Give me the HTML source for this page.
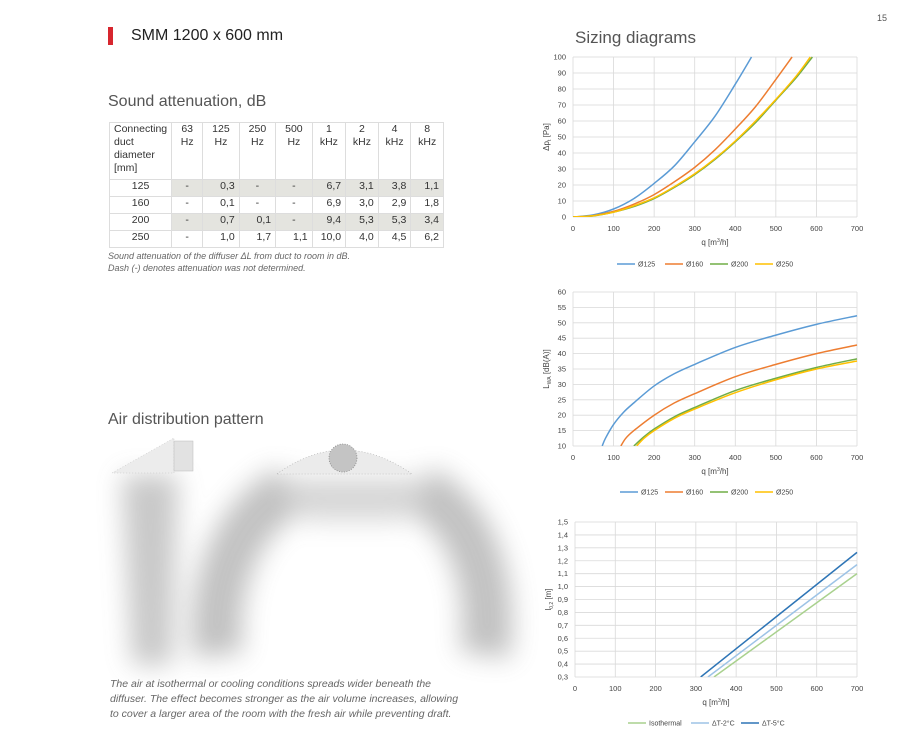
<!DOCTYPE html>
<html><head><meta charset="utf-8"><style>
body{margin:0;background:#fff;width:920px;height:743px;overflow:hidden;position:relative;font-family:"Liberation Sans",sans-serif}
.abs{position:absolute}
table{border-collapse:collapse;font-size:10.5px;color:#333}
td{border:1px solid #ddd;padding:0 4px;vertical-align:top}
</style></head><body>
<div class="abs" style="left:877px;top:13px;font-size:9px;color:#555">15</div>
<div class="abs" style="left:108px;top:27px;width:5px;height:18px;background:#d7262e"></div>
<div class="abs" style="left:131px;top:27px;font-size:16px;color:#222">SMM 1200 x 600 mm</div>
<div class="abs" style="left:575px;top:28px;font-size:17px;color:#555">Sizing diagrams</div>
<div class="abs" style="left:108px;top:93px;font-size:16px;color:#555">Sound attenuation, dB</div>

<table class="abs" style="left:109px;top:122px;width:335px">
<tr style="height:57px"><td style="width:53px;text-align:left;line-height:13px">Connecting duct diameter [mm]</td><td style="text-align:center;line-height:13px">63 Hz</td><td style="text-align:center;line-height:13px">125 Hz</td><td style="text-align:center;line-height:13px">250 Hz</td><td style="text-align:center;line-height:13px">500 Hz</td><td style="text-align:center;line-height:13px">1 kHz</td><td style="text-align:center;line-height:13px">2 kHz</td><td style="text-align:center;line-height:13px">4 kHz</td><td style="text-align:center;line-height:13px">8 kHz</td></tr>
<tbody id="tb"></tbody>
</table>
<div class="abs" style="left:108px;top:250px;font-size:9px;font-style:italic;color:#666;line-height:12px">Sound attenuation of the diffuser ΔL from duct to room in dB.<br>Dash (-) denotes attenuation was not determined.</div>

<div class="abs" style="left:108px;top:411px;font-size:16px;color:#555">Air distribution pattern</div>
<svg class="abs" style="left:60px;top:420px" width="500" height="270">
<defs><filter id="b1" x="-50%" y="-50%" width="200%" height="200%"><feGaussianBlur stdDeviation="13"/></filter></defs>
<g transform="translate(40,10)">
<g filter="url(#b1)" opacity="0.4">
<path d="M22 45 L78 45 L72 235 L32 235 Z" fill="#777"/>
<path d="M190 60 C140 85 110 150 118 225" stroke="#666" stroke-width="50" fill="none"/>
<path d="M320 60 C370 85 395 150 385 225" stroke="#666" stroke-width="50" fill="none"/>
<path d="M180 48 L330 48 L305 90 L205 90 Z" fill="#999"/>
</g>
<polygon points="12,43 74,8 74,43" fill="#ececec" stroke="#bbb" stroke-width="0.5" stroke-dasharray="1,2"/>
<rect x="74" y="11" width="19" height="30" fill="#e2e2e2" stroke="#bbb" stroke-width="0.5"/>
<path d="M177 44 Q243 -4 312 44 Z" fill="#ebebeb" stroke="#aaa" stroke-width="0.6" stroke-dasharray="1,2"/>
<circle cx="243" cy="28" r="14" fill="#c4c4c4" stroke="#888" stroke-width="0.8" stroke-dasharray="1,1.5"/>
</g>
</svg>
<div class="abs" style="left:110px;top:677px;font-size:10.5px;font-style:italic;color:#666;line-height:15px;width:358px">The air at isothermal or cooling conditions spreads wider beneath the diffuser. The effect becomes stronger as the air volume increases, allowing to cover a larger area of the room with the fresh air while preventing draft.</div>

<svg class="abs" id="charts" style="left:0;top:0" width="920" height="743"></svg>

<script>
const rowDiam=['125','160','200','250'];
const rowVals=[['-','0,3','-','-','6,7','3,1','3,8','1,1'],['-','0,1','-','-','6,9','3,0','2,9','1,8'],['-','0,7','0,1','-','9,4','5,3','5,3','3,4'],['-','1,0','1,7','1,1','10,0','4,0','4,5','6,2']];
const tb=document.getElementById('tb');
rowDiam.forEach((d,i)=>{const tr=document.createElement('tr');tr.style.height='17px';


let h='<td style="text-align:center">'+d+'</td>';
rowVals[i].forEach((v,j)=>{const bg=(i%2==0)?'background:#e4e4df;':'';h+='<td style="'+bg+'text-align:'+(j<1||v=='-'?'center':'right')+'">'+v+'</td>';});
tr.innerHTML=h;tb.appendChild(tr);});

const c1q125=[0,50,100,150,200,250,300,350,400,440], c1v125=[0,1.3,5,11.5,21,32,47,63,83,100];
const c1q160=[0,50,100,150,200,250,300,350,400,450,500,540], c1v160=[0,0.9,3.5,8,14,22,31,42,55,69,86,100];
const c1q200=[0,50,100,150,200,250,300,350,400,450,500,550,590], c1v200=[0,0.7,3,6.5,11.5,18.5,26.5,36,47,59,73,87,100];
const c1q250=[0,50,100,150,200,250,300,350,400,450,500,550,585], c1v250=[0,0.8,3,7,12,19,27,36.5,47.5,60,73.5,88,100];
const c2q125=[72,80,100,125,150,200,250,300,400,500,600,700], c2v125=[10,12.5,17,21,24,29.5,33.5,36.5,42,46,49.5,52.3];
const c2q160=[118,130,150,200,250,300,400,500,600,700], c2v160=[10,12.5,15,20,24,27,32.5,36.5,40,42.8];
const c2q200=[150,175,200,250,300,400,500,600,700], c2v200=[10,13,15.5,19.5,22.5,28,32,35.5,38.3];
const c2q250=[157,175,200,250,300,400,500,600,700], c2v250=[10,12.5,15,19,22,27.3,31.5,35,37.6];
const c3qIso=[345,700], c3vIso=[0.3,1.10];
const c3qT2=[330,700], c3vT2=[0.3,1.17];
const c3qT5=[312,700], c3vT5=[0.3,1.265];

const svg=document.getElementById('charts');const NS='http://www.w3.org/2000/svg';
function mk(t,a,p){const e=document.createElementNS(NS,t);for(const k in a)e.setAttribute(k,a[k]);(p||svg).appendChild(e);return e;}
function smooth(pts){
 if(pts.length<3)return 'M'+pts.map(p=>p.join(',')).join(' L');
 let d='M'+pts[0][0]+','+pts[0][1];
 for(let i=0;i<pts.length-1;i++){const p0=pts[i-1]||pts[i],p1=pts[i],p2=pts[i+1],p3=pts[i+2]||p2;
  const c1=[p1[0]+(p2[0]-p0[0])/6,p1[1]+(p2[1]-p0[1])/6],c2=[p2[0]-(p3[0]-p1[0])/6,p2[1]-(p3[1]-p1[1])/6];
  d+=' C'+c1.join(',')+' '+c2.join(',')+' '+p2.join(',');}
 return d;}
function chart(o){
 const g=mk('g',{});
 
 
 const X=q=>o.x0+(o.x1-o.x0)*q/700, Y=v=>o.y0-(o.y0-o.y1)*(v-o.ymin)/(o.ymax-o.ymin);
 for(let q=0;q<=700;q+=100){mk('line',{x1:X(q),x2:X(q),y1:o.y1,y2:o.y0,stroke:'#d9d9d9','stroke-width':0.8},g);
  const t=mk('text',{x:X(q),y:o.y0+14,'font-size':7.5,'text-anchor':'middle',fill:'#444'},g);t.textContent=q;}
 o.yticks.forEach(v=>{mk('line',{x1:o.x0,x2:o.x1,y1:Y(v),y2:Y(v),stroke:'#d9d9d9','stroke-width':0.8},g);
  const t=mk('text',{x:o.x0-7,y:Y(v)+2.5,'font-size':7.5,'text-anchor':'end',fill:'#444'},g);t.textContent=o.fmt?o.fmt(v):v;});
 const xl=mk('text',{x:(o.x0+o.x1)/2,y:o.y0+28,'font-size':8,'text-anchor':'middle',fill:'#444'},g);xl.innerHTML='q [m<tspan font-size="5" dy="-3">3</tspan><tspan dy="3">/h]</tspan>';
 
 const yl=mk('text',{transform:`translate(${o.x0-24},${(o.y0+o.y1)/2}) rotate(-90)`,'font-size':8,'text-anchor':'middle',fill:'#444'},g);yl.innerHTML=o.ylab;
 
 const cp=mk('clipPath',{id:'cp'+o.name},g);mk('rect',{x:o.x0,y:o.y1-2,width:o.x1-o.x0+2,height:o.y0-o.y1+2},cp);
 const lg=o.legendX;
 o.series.forEach((s,i)=>{const p=mk('path',{d:smooth(s.q.map((q,j)=>[X(q),Y(s.v[j])])),fill:'none',stroke:s.c,'stroke-width':1.5,'clip-path':`url(#cp${o.name})`},g);
  
  mk('line',{x1:lg[i],x2:lg[i]+18,y1:o.ly,y2:o.ly,stroke:s.c,'stroke-width':1.5},g);
  const t=mk('text',{x:lg[i]+21,y:o.ly+2.5,'font-size':7,fill:'#444'},g);t.textContent=s.n;
  });
}
chart({name:'pressure-chart',x0:573,x1:857,y0:217,y1:57,ymin:0,ymax:100,yticks:[0,10,20,30,40,50,60,70,80,90,100],
 ylab:'Δp<tspan font-size="5" dy="2">t</tspan><tspan dy="-2"> [Pa]</tspan>',ly:264,legendX:[617,665,710,755],
 series:[{n:'Ø125',q:c1q125,v:c1v125,c:'#5b9bd5'},{n:'Ø160',q:c1q160,v:c1v160,c:'#ed7d31'},{n:'Ø200',q:c1q200,v:c1v200,c:'#70ad47'},{n:'Ø250',q:c1q250,v:c1v250,c:'#ffc000'}]});
chart({name:'sound-chart',x0:573,x1:857,y0:446,y1:292,ymin:10,ymax:60,yticks:[10,15,20,25,30,35,40,45,50,55,60],
 ylab:'L<tspan font-size="5" dy="2">WA</tspan><tspan dy="-2"> [dB(A)]</tspan>',ly:492,legendX:[620,665,710,755],
 series:[{n:'Ø125',q:c2q125,v:c2v125,c:'#5b9bd5'},{n:'Ø160',q:c2q160,v:c2v160,c:'#ed7d31'},{n:'Ø200',q:c2q200,v:c2v200,c:'#70ad47'},{n:'Ø250',q:c2q250,v:c2v250,c:'#ffc000'}]});
chart({name:'throw-chart',x0:575,x1:857,y0:677,y1:522,ymin:0.3,ymax:1.5,yticks:[0.3,0.4,0.5,0.6,0.7,0.8,0.9,1.0,1.1,1.2,1.3,1.4,1.5],fmt:v=>v.toFixed(1).replace('.',','),
 ylab:'l<tspan font-size="5" dy="2">0,2</tspan><tspan dy="-2"> [m]</tspan>',ly:723,legendX:[628,691,741],
 series:[{n:'Isothermal',q:c3qIso,v:c3vIso,c:'#a9d18e'},{n:'ΔT-2°C',q:c3qT2,v:c3vT2,c:'#9dc3e6'},{n:'ΔT-5°C',q:c3qT5,v:c3vT5,c:'#2e75b6'}]});
</script>
</body></html>
